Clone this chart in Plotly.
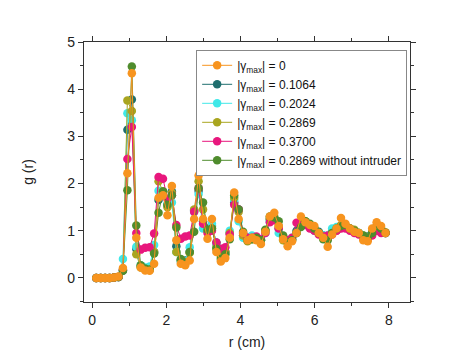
import plotly.graph_objects as go

r_cm = [0.11, 0.23, 0.35, 0.47, 0.59, 0.71, 0.83, 0.95, 1.07, 1.19,
        1.31, 1.43, 1.55, 1.67, 1.79, 1.91, 2.03, 2.15, 2.27, 2.39,
        2.51, 2.63, 2.75, 2.87, 2.99, 3.11, 3.23, 3.35, 3.47, 3.59,
        3.71, 3.83, 3.95, 4.07, 4.19, 4.31, 4.43, 4.55, 4.67, 4.79,
        4.91, 5.03, 5.15, 5.27, 5.39, 5.51, 5.63, 5.75, 5.87, 5.99,
        6.11, 6.23, 6.35, 6.47, 6.59, 6.71, 6.83, 6.95, 7.07, 7.19,
        7.31, 7.43, 7.55, 7.67, 7.79, 7.91]

g_0 = [0, 0, 0, 0, 0.01, 0.03, 0.21, 2.22, 4.34, 0.85,
       0.22, 0.16, 0.15, 0.30, 1.70, 1.75, 1.33, 1.95, 0.80, 0.30,
       0.27, 0.37, 1.25, 2.17, 1.25, 0.83, 1.25, 0.55, 0.35, 0.42,
       0.85, 1.81, 1.25, 0.95, 0.80, 0.85, 0.80, 0.72, 0.98, 1.30,
       1.38, 1.10, 0.82, 0.67, 0.78, 0.95, 1.30, 1.18, 1.12, 1.10,
       0.95, 0.85, 0.66, 0.92, 1.05, 1.27, 1.15, 1.05, 0.98, 0.95,
       0.80, 0.78, 1.05, 1.18, 1.10, 0.95]

g_1064 = [0, 0, 0, 0, 0.01, 0.02, 0.16, 3.14, 3.78, 0.62,
          0.25, 0.20, 0.20, 0.55, 1.65, 1.83, 1.55, 1.83, 0.67, 0.37,
          0.37, 0.55, 1.43, 1.85, 1.20, 1.05, 1.10, 0.75, 0.55, 0.55,
          0.95, 1.60, 1.45, 0.90, 0.85, 0.88, 0.85, 0.80, 1.00, 1.25,
          1.25, 1.05, 0.85, 0.78, 0.82, 1.00, 1.15, 1.15, 1.12, 1.05,
          0.98, 0.90, 0.88, 1.00, 1.05, 1.10, 1.10, 1.05, 1.00, 0.95,
          0.88, 0.88, 0.95, 1.05, 1.00, 0.95]

g_2024 = [0, 0, 0, 0, 0.01, 0.02, 0.40, 3.49, 3.34, 0.66,
          0.27, 0.22, 0.24, 0.70, 1.85, 1.80, 1.57, 1.60, 0.55, 0.35,
          0.35, 0.65, 1.40, 1.78, 1.05, 1.00, 1.15, 0.70, 0.50, 0.50,
          1.00, 1.65, 1.20, 0.85, 0.80, 0.90, 0.85, 0.80, 0.95, 1.20,
          1.25, 0.95, 0.85, 0.78, 0.85, 0.95, 1.10, 1.15, 1.10, 1.00,
          0.95, 0.90, 0.90, 1.05, 1.08, 1.10, 1.08, 1.02, 1.00, 0.95,
          0.88, 0.85, 0.95, 1.02, 1.00, 0.95]

g_2869 = [0, 0, 0, 0, 0.01, 0.02, 0.18, 3.76, 3.54, 0.50,
          0.22, 0.18, 0.17, 0.55, 2.05, 1.83, 1.50, 1.80, 0.55, 0.38,
          0.33, 0.53, 1.45, 2.05, 1.45, 1.00, 1.05, 0.65, 0.45, 0.55,
          0.95, 1.70, 1.40, 0.90, 0.78, 0.82, 0.85, 0.80, 1.00, 1.25,
          1.30, 1.10, 0.80, 0.75, 0.82, 0.95, 1.15, 1.20, 1.10, 1.05,
          0.95, 0.88, 0.85, 0.95, 1.00, 1.12, 1.10, 1.05, 1.02, 0.95,
          0.90, 0.85, 0.98, 1.08, 1.05, 0.97]

g_3700 = [0, 0, 0, 0, 0.01, 0.02, 0.17, 2.52, 3.20, 0.95,
          0.60, 0.64, 0.65, 0.94, 2.14, 2.10, 1.68, 1.75, 1.12, 0.83,
          0.88, 0.90, 1.40, 1.90, 1.15, 0.95, 1.00, 0.75, 0.62, 0.65,
          0.92, 1.55, 1.45, 0.95, 0.85, 0.85, 0.88, 0.82, 0.95, 1.18,
          1.22, 1.05, 0.88, 0.80, 0.85, 1.17, 1.10, 1.12, 1.05, 1.00,
          0.92, 0.88, 0.90, 0.92, 1.00, 1.05, 1.05, 1.00, 0.95, 0.92,
          0.85, 0.82, 0.90, 1.00, 0.95, 0.95]

g_2869_no = [0, 0, 0, 0, 0.01, 0.02, 0.15, 1.86, 4.48, 1.11,
             0.27, 0.20, 0.18, 0.52, 1.38, 1.83, 1.55, 1.75, 1.07, 0.40,
             0.32, 0.55, 0.98, 1.90, 1.60, 1.02, 1.05, 0.62, 0.40, 0.50,
             0.82, 1.75, 1.45, 0.98, 0.80, 0.82, 0.85, 0.80, 1.02, 1.30,
             1.28, 1.20, 0.90, 0.75, 0.80, 0.95, 1.08, 1.20, 1.15, 1.05,
             0.95, 0.82, 0.80, 0.95, 1.05, 1.10, 1.12, 1.05, 1.00, 0.95,
             0.90, 0.85, 0.95, 1.10, 1.05, 0.95]

labels = ["|γ<sub>max</sub>| = 0",
          "|γ<sub>max</sub>| = 0.1064",
          "|γ<sub>max</sub>| = 0.2024",
          "|γ<sub>max</sub>| = 0.2869",
          "|γ<sub>max</sub>| = 0.3700",
          "|γ<sub>max</sub>| = 0.2869 without intruder"]
series = [g_0, g_1064, g_2024, g_2869, g_3700, g_2869_no]
colors = ["#F7941F", "#1F6E6E", "#40E8E8", "#A9A51F", "#E8177D", "#4F8C2D"]

# drawing order (last on top); legend order kept via legendrank
draw_order = [1, 2, 3, 4, 5, 0]

FONT = "Liberation Sans, Arial"

fig = go.Figure()
for i in draw_order:
    fig.add_trace(go.Scatter(
        x=r_cm, y=series[i], mode="lines+markers", name=labels[i],
        legendrank=i + 1,
        line=dict(color=colors[i], width=1),
        marker=dict(color=colors[i], size=8.5),
    ))

axis_common = dict(
    showline=True, linecolor="#333333", linewidth=1.3, mirror="ticks",
    ticks="outside", ticklen=5, tickwidth=1.2, tickcolor="#333333",
    showgrid=False, zeroline=False,
    tickfont=dict(family=FONT, size=14, color="#222222"),
)

fig.update_xaxes(range=[-0.22, 8.57], dtick=2, tick0=0,
                 minor=dict(ticks="outside", dtick=1, ticklen=3, tickcolor="#333333"),
                 title=dict(text="r (cm)", font=dict(family=FONT, size=14, color="#222222"), standoff=10),
                 **axis_common)
fig.update_yaxes(range=[-0.51, 5.0], dtick=1, tick0=0,
                 minor=dict(ticks="outside", dtick=0.5, ticklen=3, tickcolor="#333333"),
                 title=dict(text="g (r)", font=dict(family=FONT, size=14, color="#222222"), standoff=30),
                 **axis_common)

fig.update_layout(
    width=466, height=354,
    margin=dict(l=76, r=64, t=34, b=60, autoexpand=False),
    paper_bgcolor="white", plot_bgcolor="white",
    showlegend=True,
    legend=dict(x=0.344, y=0.97, xanchor="left", yanchor="top",
                bordercolor="#888888", borderwidth=1, bgcolor="white",
                font=dict(family=FONT, size=12, color="#111111"),
                tracegroupgap=0, itemwidth=30),
)

fig.write_html("out.html")
